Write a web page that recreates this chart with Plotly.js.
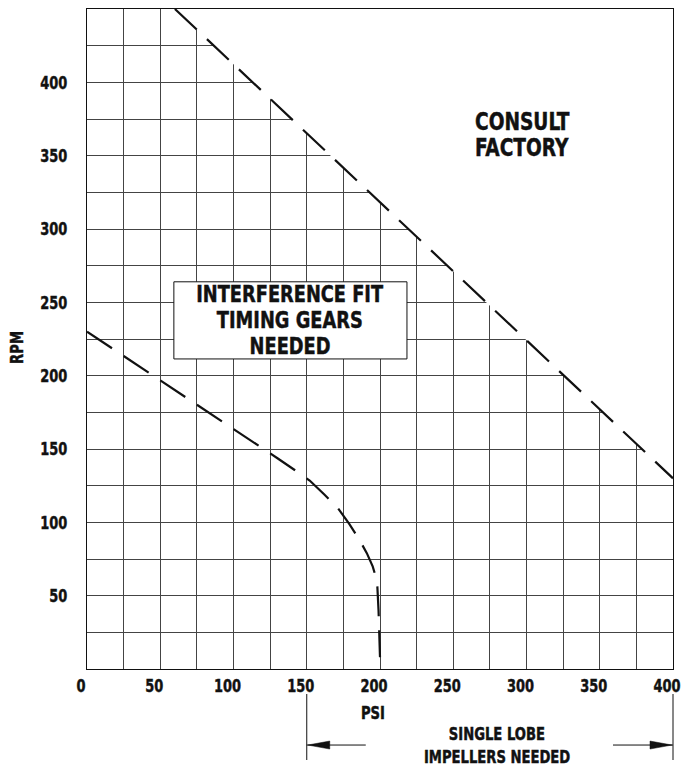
<!DOCTYPE html>
<html>
<head>
<meta charset="utf-8">
<script src="https://cdn.plot.ly/plotly-3.0.1.min.js"></script>
<style>html,body{margin:0;padding:0;background:#fff;}#chart{width:681px;height:767px;}</style>
</head>
<body>
<div id="chart"></div>
<script>
// ---- data ----
const psiRange = [0, 400];
const rpmRange = [0, 450];
const psiTickVals = [0, 50, 100, 150, 200, 250, 300, 350, 400];
const rpmTickVals = [50, 100, 150, 200, 250, 300, 350, 400];
// upper limit line ("CONSULT FACTORY" boundary)
const upperPsi = [60, 400];
const upperRpm = [450, 130];
// lower limit curve (interference-fit timing gears / single lobe boundary)
const lowerPsi = [0, 50, 100, 130, 142, 152, 162, 171, 179, 186, 191, 195, 198, 199, 200];
const lowerRpm = [230, 197, 163.5, 143.7, 135.5, 128.5, 119, 110, 99, 88, 79, 70, 60, 40, 8];
// labels
const boxLines = ["INTERFERENCE FIT", "TIMING GEARS", "NEEDED"];
const consultLines = ["CONSULT", "FACTORY"];
const singleLobeLines = ["SINGLE LOBE", "IMPELLERS NEEDED"];
const singleLobeFrom = 150, singleLobeTo = 400;

const FONT = "'DejaVu Sans Condensed', 'Liberation Sans Narrow', sans-serif";
const INK = '#111';
const toPaperX = v => (v - psiRange[0]) / (psiRange[1] - psiRange[0]);

const traces = [
  { // white mask above upper line (hides grid)
    x: upperPsi.concat([psiRange[1]]),
    y: upperRpm.concat([rpmRange[1]]),
    mode: 'lines', fill: 'toself', fillcolor: '#ffffff',
    line: {width: 0, color: 'rgba(0,0,0,0)'}, hoverinfo: 'skip', showlegend: false
  },
  {
    x: upperPsi, y: upperRpm, mode: 'lines',
    line: {color: INK, width: 2.2, dash: '30px,14px'}, showlegend: false
  },
  {
    x: lowerPsi, y: lowerRpm, mode: 'lines',
    line: {color: INK, width: 2.2, dash: '30px,14px'}, showlegend: false
  }
];

const tickFont = {family: FONT, size: 18, color: INK, weight: 'bold'};
const annFont = {family: FONT, size: 23, color: INK, weight: 'bold'};
const consultFont = {family: FONT, size: 24, color: INK, weight: 'bold'};
const smallFont = {family: FONT, size: 17, color: INK, weight: 'bold'};

const annotations = [];
const boxY = [255.5, 238, 220.5];
boxLines.forEach((t, i) => annotations.push({
  x: 138.5, y: boxY[i], xref: 'x', yref: 'y', text: t, showarrow: false,
  xanchor: 'center', yanchor: 'middle', font: annFont
}));
const consultY = [373, 355.5];
consultLines.forEach((t, i) => annotations.push({
  x: 263.5, y: consultY[i], xref: 'x', yref: 'y', text: t, showarrow: false,
  xanchor: 'left', yanchor: 'middle', align: 'left', font: consultFont
}));
annotations.push({x: -0.1195, y: 0.487, xref: 'paper', yref: 'paper', text: 'RPM', textangle: -90,
  showarrow: false, xanchor: 'center', yanchor: 'middle', font: smallFont});
annotations.push({x: toPaperX(195), y: -0.0667, xref: 'paper', yref: 'paper', text: 'PSI',
  showarrow: false, xanchor: 'center', yanchor: 'middle', font: smallFont});
const slY = [-0.0985, -0.1335];
singleLobeLines.forEach((t, i) => annotations.push({
  x: 0.7005, y: slY[i], xref: 'paper', yref: 'paper', text: t, showarrow: false,
  xanchor: 'center', yanchor: 'middle', font: smallFont
}));

const arrowY = -0.1152;
const shapes = [
  {
    type: 'rect', xref: 'x', yref: 'y', x0: 59.3, x1: 218.4, y0: 211.4, y1: 264,
    fillcolor: '#ffffff', line: {color: INK, width: 1}, layer: 'above'
  },
  {type: 'line', xref: 'paper', yref: 'paper', x0: toPaperX(singleLobeFrom), x1: toPaperX(singleLobeFrom),
   y0: -0.0379, y1: -0.1379, line: {color: INK, width: 1}},
  {type: 'line', xref: 'paper', yref: 'paper', x0: toPaperX(singleLobeTo), x1: toPaperX(singleLobeTo),
   y0: -0.0379, y1: -0.1379, line: {color: INK, width: 1}},
  {type: 'line', xref: 'paper', yref: 'paper', xsizemode: 'pixel', xanchor: toPaperX(singleLobeFrom),
   x0: 0, x1: 59, y0: arrowY, y1: arrowY, line: {color: INK, width: 1}},
  {type: 'path', xref: 'paper', yref: 'paper', xsizemode: 'pixel', ysizemode: 'pixel',
   xanchor: toPaperX(singleLobeFrom), yanchor: arrowY, path: 'M1,0L23,4L23,-4Z',
   fillcolor: INK, line: {color: INK, width: 0.5}},
  {type: 'line', xref: 'paper', yref: 'paper', xsizemode: 'pixel', xanchor: toPaperX(singleLobeTo),
   x0: -60, x1: 0, y0: arrowY, y1: arrowY, line: {color: INK, width: 1}},
  {type: 'path', xref: 'paper', yref: 'paper', xsizemode: 'pixel', ysizemode: 'pixel',
   xanchor: toPaperX(singleLobeTo), yanchor: arrowY, path: 'M-1,0L-23,4L-23,-4Z',
   fillcolor: INK, line: {color: INK, width: 0.5}}
];

const layout = {
  width: 681, height: 767,
  margin: {l: 87, r: 8, t: 9, b: 98, pad: 0},
  paper_bgcolor: '#fff', plot_bgcolor: '#fff',
  showlegend: false,
  xaxis: {
    range: psiRange, tickvals: psiTickVals, ticktext: psiTickVals.map(String),
    showgrid: true, gridcolor: '#444', gridwidth: 1,
    minor: {dtick: 25, tick0: 0, showgrid: true, gridcolor: '#444', gridwidth: 1},
    showline: true, mirror: true, linecolor: INK, linewidth: 1,
    zeroline: false, ticks: '', tickfont: tickFont, fixedrange: true,
    ticklabeloverflow: 'allow', ticklabelshift: -6
  },
  yaxis: {
    range: rpmRange, tickvals: rpmTickVals, ticktext: rpmTickVals.map(String),
    showgrid: true, gridcolor: '#444', gridwidth: 1,
    minor: {dtick: 25, tick0: 0, showgrid: true, gridcolor: '#444', gridwidth: 1},
    showline: true, mirror: true, linecolor: INK, linewidth: 1,
    zeroline: false, ticks: '', tickfont: tickFont, ticklabelstandoff: 15, fixedrange: true
  },
  annotations: annotations,
  shapes: shapes
};

// narrow the glyphs to match the condensed heavy face of the original (text stays real text)
function condense(gd) {
  const apply = (sel, f) => gd.querySelectorAll(sel).forEach(el => {
    const w = el.getComputedTextLength();
    if (w > 0) {
      el.setAttribute('textLength', (w * f).toFixed(2));
      el.setAttribute('lengthAdjust', 'spacingAndGlyphs');
    }
    el.style.stroke = INK;
    el.style.strokeWidth = '0.45px';
  });
  apply('g.xtick text, g.ytick text', 0.8);
  apply('text.annotation-text', 0.86);
}

Plotly.newPlot('chart', traces, layout, {displayModeBar: false, staticPlot: true})
  .then(gd => condense(gd));
</script>
</body>
</html>
